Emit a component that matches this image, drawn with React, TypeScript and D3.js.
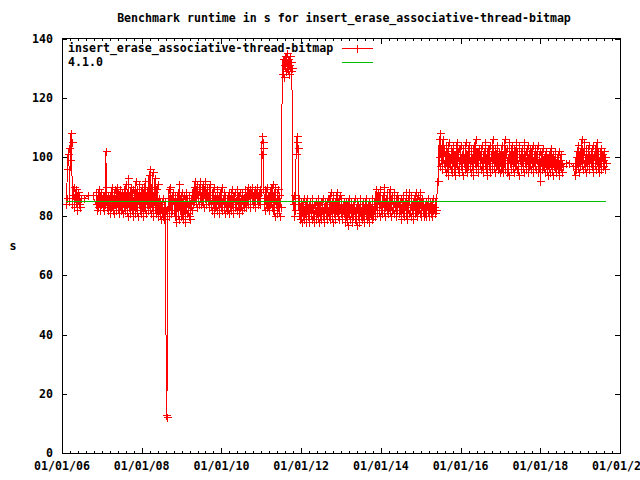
import React from "react";
import * as d3 from "d3";

const TITLE = "Benchmark runtime in s for insert_erase_associative-thread-bitmap";
const SERIES_NAME = "insert_erase_associative-thread-bitmap";
const REF_NAME = "4.1.0";
const Y_LABEL = "s";

const yTicks = [0, 20, 40, 60, 80, 100, 120, 140];
const xTickDates = ["2006-01-01", "2008-01-01", "2010-01-01", "2012-01-01", "2014-01-01", "2016-01-01", "2018-01-01", "2020-01-01"];
const xTickLabels = ["01/01/06", "01/01/08", "01/01/10", "01/01/12", "01/01/14", "01/01/16", "01/01/18", "01/01/20"];

// benchmark runs, grouped in stretches of regular (nightly-ish) runs
const segAValues = [84, 86, 96, 101, 103, 85, 99, 108, 105, 84, 87, 90, 83, 86, 89, 85, 82, 88, 84, 87, 83, 86];
const segBValues = [86, 87, 87];
const segCValues = [
  84, 88, 82, 87, 83, 89, 85, 82, 88, 84, 86, 83, 87,
  82, 88, 84, 102, 90, 83, 87, 82, 86, 84,
  81, 88, 83, 90, 82, 86, 81, 89, 84, 87, 82, 90, 83, 88, 81, 86, 89, 82, 85, 88, 81, 87, 83, 89,
  82, 91, 84, 88, 80, 93, 83, 87, 81, 90, 85, 82, 89, 80, 86, 88,
  81, 92, 83, 89, 80, 87, 84, 91, 82, 88, 81, 90, 85, 80, 89, 83, 92, 81, 87, 84, 90,
  82, 94, 84, 96, 81, 90, 83, 95, 80, 88, 85, 93, 81, 89, 82, 91,
  80, 86, 82, 85, 79, 84, 81, 86, 80, 83, 79, 85, 82,
  13, 12,
];
const segDValues = [
  83, 89, 80, 86, 90, 81, 87, 82, 88, 84, 85,
  80, 87, 78, 86, 83, 88, 79, 91, 82, 86, 80, 88, 84, 79, 87, 82, 85, 78, 88, 81, 86, 83, 80, 87, 84, 79, 86, 82, 88,
  84, 90, 85, 92, 86, 89, 83, 91, 86, 84, 90, 87, 92, 84, 88, 85, 91, 83, 89, 86, 92, 84, 87, 90, 85, 88, 83, 91, 86, 84,
  82, 88, 84, 90, 81, 87, 83, 86, 82, 89, 84, 87, 81, 88, 85, 83, 90, 82, 86, 84, 88, 81, 87, 83, 85, 82,
  87, 81, 88, 83, 86, 82, 89, 84, 87, 81, 86, 88, 83, 85, 82, 89, 84, 87, 81, 88, 83, 86, 82, 88, 84, 86, 83,
  86, 89, 83, 88, 85, 90, 84, 87, 89, 83, 88, 86, 90, 84, 87, 85, 89, 83, 88, 86, 90, 84, 87, 85, 89, 84, 88,
  101, 107, 105, 103,
  86, 82, 89, 84, 90, 83, 87, 85, 82, 88, 84, 90, 83, 86,
  91, 82, 88, 80, 90, 84, 86, 81, 89, 83, 87, 80, 85, 83,
];
const segEValues = [128, 133, 127, 131, 134, 129, 132, 135, 130, 133, 128, 131, 134, 129, 132, 130];
const segFValues = [
  84, 87, 80, 85, 82, 101, 107, 105, 103, 82, 86, 79,
  81, 85, 78, 84, 80, 86, 79, 83, 85, 78, 82, 86, 80, 84, 78, 85, 81, 83, 79, 86, 80, 84, 78, 82, 85, 79, 83, 81, 86, 78, 84, 80, 85, 79, 82, 86, 80, 83, 78, 85, 81, 84, 79, 86, 82, 80,
  86, 79, 88, 82, 85, 78, 87, 81, 84, 79, 86, 82, 88, 80, 85, 79, 87, 83, 81, 86, 79, 84, 82, 85,
  83, 78, 85, 80, 84, 77, 82, 86, 79, 83, 81, 85, 78, 84, 80, 82, 86, 79, 83, 77, 85, 81, 84, 78, 82, 86, 80, 83, 79, 85, 81, 78, 84, 82, 86, 79, 83, 80, 85, 78, 84, 81, 83, 79, 86, 80, 82, 84,
  86, 80, 89, 83, 81, 88, 84, 87, 80, 89, 82, 85, 81, 87, 83, 90, 80, 86, 84, 82, 88, 81, 85, 83, 89, 80, 86, 82, 87, 84, 81, 88, 83, 85, 80, 87, 82, 86, 84, 81,
  82, 86, 79, 84, 81, 87, 83, 80, 85, 82, 88, 79, 84, 86, 81, 88, 83, 80, 87, 82, 85, 79, 84, 86, 81, 88, 83, 80, 87, 82, 85, 81, 88, 84, 80, 86, 82, 85, 80, 84,
  81, 85, 80, 84, 82, 86, 80, 83, 85, 81, 84, 80, 86, 82, 83, 81, 85, 82,
];
const segGValues = [
  92, 100, 106, 97, 108, 99, 104, 96, 106, 98, 103,
  101, 95, 104, 97, 102, 94, 105, 98, 100, 96, 103, 99, 95, 104, 97, 101, 94, 102, 98, 105, 96, 100, 103, 95, 99, 104, 97, 101, 94, 103, 98, 100, 96, 105, 99, 95, 102, 97, 104, 98,
  99, 95, 103, 97, 101, 94, 104, 98, 100, 106, 96, 102, 98, 95, 103, 99, 101, 96, 104, 97, 100, 95, 102, 98, 105, 96, 101, 94, 103, 99, 97, 104, 95, 100, 102, 96, 106, 98, 101, 95, 103, 97, 100, 104, 96, 99, 102, 95,
  101, 96, 104, 99, 95, 102, 98, 106, 96, 101, 103, 95, 100, 94, 105, 98, 102, 96, 104, 99, 101, 95, 103, 97, 100, 105, 96, 102, 98, 94, 104, 99, 101, 96, 103, 97, 100, 95, 105, 98, 102, 96, 99, 104, 95, 101, 97, 103,
  96, 102, 98, 104, 95, 100, 97, 103, 96, 101, 99, 104, 95, 98, 102, 92, 99, 101, 96, 103, 97, 100, 95, 98,
  102, 96, 100, 94, 99, 101, 95, 98, 103, 96, 100, 94, 101, 97, 99, 102, 95, 98, 100, 96, 102, 94, 99, 97, 101, 95, 98, 97,
];
const segHValues = [98, 98, 97];
const segIValues = [
  94, 100, 96, 102, 98, 104, 95, 101, 97, 103, 99, 106, 96, 102, 98, 105, 100, 95, 103, 97, 101, 99, 104, 96, 100,
  98, 102, 97, 104, 95, 101, 99, 103, 96, 100, 105, 97, 102, 95, 100, 98, 103, 96, 101, 99, 97, 102, 96, 100, 98,
];

const segStarts = ["2006-02-06", "2006-07-20", "2006-11-07", "2008-08-29", "2011-07-13", "2011-10-18", "2015-06-08", "2018-08-23", "2018-11-14"];
const segEnds = ["2006-06-23", "2006-10-12", "2008-08-19", "2011-06-30", "2011-10-08", "2015-05-20", "2018-07-27", "2018-10-27", "2019-08-25"];
const segValues = [segAValues, segBValues, segCValues, segDValues, segEValues, segFValues, segGValues, segHValues, segIValues];

const refDates = ["2006-02-06", "2019-08-25"];
const refValues = [85, 85];

type Pt = { d: Date; v: number };

function buildSeries(): Pt[] {
  const pts: Pt[] = [];
  segValues.forEach((vals, i) => {
    const s = new Date(segStarts[i]).getTime();
    const e = new Date(segEnds[i]).getTime();
    const n = vals.length;
    vals.forEach((v, j) => {
      pts.push({ d: new Date(n > 1 ? s + ((e - s) * j) / (n - 1) : s), v });
    });
  });
  return pts;
}

const FONT = "'DejaVu Sans Mono', 'Liberation Mono', monospace";
const RED = "#ff0000";
const GREEN = "#00c000";

export default function App() {
  const L = 62, R = 620, T = 38.5, B = 453;
  const x = d3.scaleTime().domain([new Date("2006-01-01"), new Date("2020-01-01")]).range([L, R]);
  const y = d3.scaleLinear().domain([0, 140]).range([B, T]);
  const series = buildSeries();
  const ref: Pt[] = refDates.map((d, i) => ({ d: new Date(d), v: refValues[i] }));

  const line = d3.line<Pt>().x((p) => x(p.d)).y((p) => y(p.v));
  const px = (v: number) => Math.round(v) + 0.5;
  const plusPath = series
    .map((p) => {
      const cx = px(x(p.d)), cy = px(y(p.v));
      return `M${cx - 4},${cy}h8M${cx},${cy - 4}v8`;
    })
    .join("");

  const majorX = xTickDates.map((d) => x(new Date(d)));
  const minorX: number[] = [];
  for (let i = 0; i < majorX.length - 1; i++) {
    for (let k = 1; k < 10; k++) minorX.push(majorX[i] + ((majorX[i + 1] - majorX[i]) * k) / 10);
  }

  const textStyle = { fontFamily: FONT, fontSize: 11.6, fontWeight: "bold" as const, fill: "#000" };

  return (
    <svg width={640} height={480} style={{ position: "absolute", left: 0, top: 0, background: "#fff" }}>
      <rect x={0} y={0} width={640} height={480} fill="#fff" />
      <text x={344} y={22} textAnchor="middle" style={textStyle}>{TITLE}</text>
      <text x={13} y={250} textAnchor="middle" style={textStyle}>{Y_LABEL}</text>

      <g shapeRendering="crispEdges" stroke="#000" strokeWidth={1}>
        {yTicks.map((t) => (
          <g key={"y" + t}>
            <line x1={L} x2={L + 5} y1={px(y(t))} y2={px(y(t))} />
            <line x1={R - 5} x2={R} y1={px(y(t))} y2={px(y(t))} />
          </g>
        ))}
        {majorX.map((mx, i) => (
          <g key={"mx" + i}>
            <line x1={px(mx)} x2={px(mx)} y1={B} y2={B - 5} />
            <line x1={px(mx)} x2={px(mx)} y1={T} y2={T + 5} />
          </g>
        ))}
        {minorX.map((mx, i) => (
          <g key={"nx" + i}>
            <line x1={px(mx)} x2={px(mx)} y1={B} y2={B - 2.5} />
            <line x1={px(mx)} x2={px(mx)} y1={T} y2={T + 2.5} />
          </g>
        ))}
      </g>

      {yTicks.map((t) => (
        <text key={"yl" + t} x={53} y={Math.round(y(t)) + 4} textAnchor="end" style={textStyle}>{t}</text>
      ))}
      {xTickLabels.map((lab, i) => (
        <text key={"xl" + i} x={majorX[i]} y={470} textAnchor="middle" style={textStyle}>{lab}</text>
      ))}

      <g shapeRendering="crispEdges">
        <path d={line(series) || ""} fill="none" stroke={RED} strokeWidth={1} />
        <path d={plusPath} fill="none" stroke={RED} strokeWidth={1} />
        <path d={line(ref) || ""} fill="none" stroke={GREEN} strokeWidth={1} />
      </g>

      <rect x={px(L) - 0.5} y={T} width={R - L} height={B - T} fill="none" stroke="#000" strokeWidth={1} shapeRendering="crispEdges" />

      <text x={68} y={52} style={textStyle}>{SERIES_NAME}</text>
      <text x={68} y={66} style={textStyle}>{REF_NAME}</text>
      <g shapeRendering="crispEdges">
        <line x1={342} x2={373} y1={48.5} y2={48.5} stroke={RED} />
        <path d="M353.5,48.5h8M357.5,44.5v8" stroke={RED} fill="none" />
        <line x1={342} x2={373} y1={62.5} y2={62.5} stroke={GREEN} />
      </g>
    </svg>
  );
}
